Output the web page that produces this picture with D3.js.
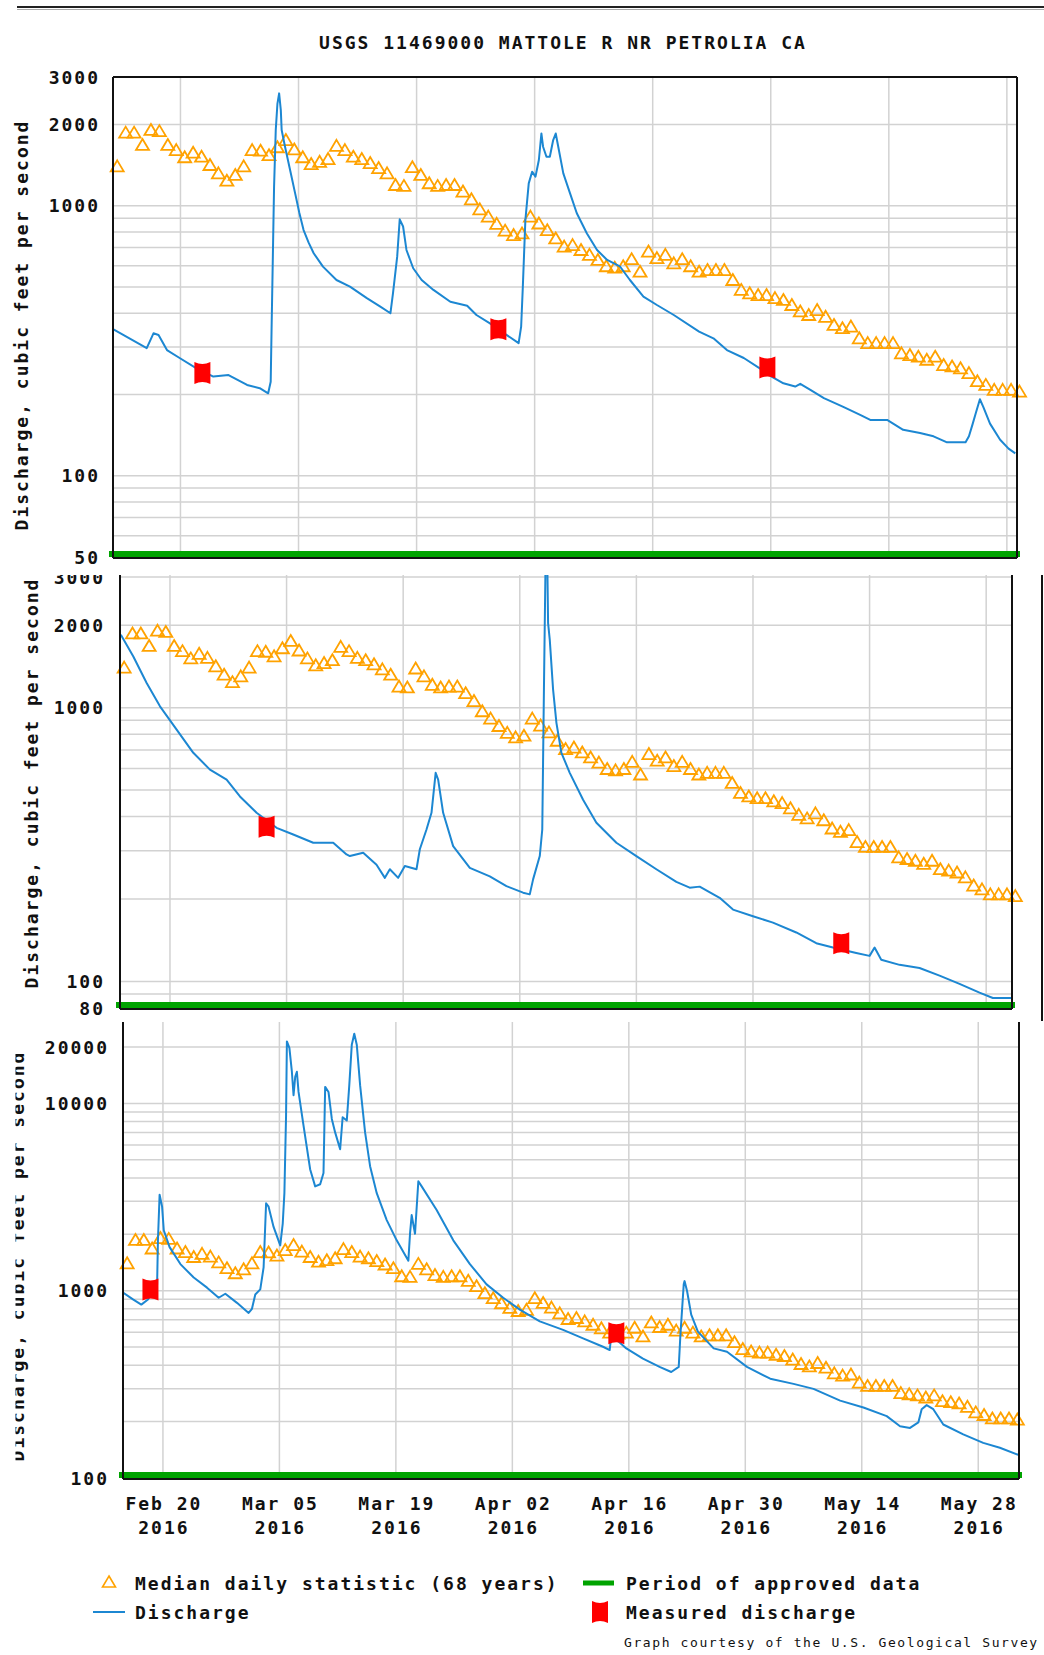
<!DOCTYPE html>
<html>
<head>
<meta charset="utf-8">
<script src="https://cdn.jsdelivr.net/npm/d3@7"></script>
<style>
  body { margin: 0; background: #fff; }
  text {
    font-family: "DejaVu Sans Mono", "Liberation Mono", monospace;
    font-weight: bold;
    font-size: 18px;
    letter-spacing: 2px;
    fill: #111;
  }
  .small { font-size: 13px; font-weight: normal; letter-spacing: 1.6px; }
</style>
</head>
<body>
<div id="chart"></div>
<script>
// median daily statistic (68 years), one value per day from the start of the window
const medianDaily = [
  1400, 1866, 1866, 1680, 1910, 1890, 1680, 1608, 1513, 1573,
  1520, 1416, 1319, 1239, 1301, 1400, 1608, 1600, 1540, 1648,
  1752, 1617, 1513, 1428, 1455, 1490, 1667, 1608, 1520, 1490,
  1440, 1380, 1319, 1194, 1185, 1390, 1301, 1212, 1185, 1194,
  1194, 1129, 1057, 970, 912, 857, 809, 779, 790, 912,
  860, 812, 757, 706, 715, 686, 658, 630, 597, 590,
  597, 634, 570, 677, 640, 658, 612, 634, 597, 570,
  578, 578, 578, 531, 488, 474, 467, 467, 455, 448,
  429, 406, 394, 411, 388, 362, 352, 357, 323, 310,
  310, 310, 310, 284, 280, 276, 269, 276, 257, 254,
  250, 240, 224, 217, 208, 208, 208, 205
];

// discharge, [day, cfs]
const flowTop = [
  [0, 349], [4.0, 297], [4.8, 337], [5.4, 332], [6.4, 292], [7.9, 273], [9.9, 250], [11.9, 233],
  [13.7, 236], [15.9, 217], [17.4, 211], [18.4, 202], [18.7, 223], [18.8, 342], [19.1, 1177],
  [19.3, 1910], [19.5, 2392], [19.7, 2609], [19.9, 2262], [20.0, 1910], [20.4, 1655], [21.0, 1357],
  [21.6, 1112], [22.1, 940], [22.6, 813], [23.2, 730], [23.8, 667], [24.9, 595], [26.5, 531], [28.1, 502], [30.1, 455],
  [31.7, 423], [32.9, 400], [33.2, 474], [33.7, 648], [34.0, 891], [34.4, 838], [34.8, 686],
  [35.6, 587], [36.6, 531], [38.0, 488], [40.0, 441], [42.0, 426], [43.1, 394], [44.7, 367],
  [46.7, 332], [48.1, 310], [48.4, 357], [48.6, 502], [48.9, 885], [49.3, 1211], [49.7, 1338],
  [50.1, 1282], [50.5, 1478], [50.8, 1853], [51.0, 1655], [51.4, 1520], [51.8, 1520], [52.2, 1752],
  [52.5, 1853], [52.8, 1655], [53.4, 1319], [54.2, 1112], [55.0, 938], [56.2, 790], [57.4, 686],
  [58.6, 630], [60.1, 597], [61.3, 531], [62.9, 461], [64.5, 429], [66.5, 394], [69.5, 342],
  [71.2, 323], [72.8, 292], [74.8, 273], [76.7, 250], [78.1, 233], [79.5, 220], [80.9, 214],
  [81.5, 219], [82.7, 208], [84.3, 194], [86.6, 180], [88.6, 168], [89.8, 161], [91.8, 161],
  [93.7, 148], [95.7, 144], [97.3, 140], [98.9, 133], [101.1, 133], [101.5, 140], [101.9, 154],
  [102.3, 170], [102.8, 192], [103.2, 180], [104.0, 156], [105.2, 136], [106.2, 126], [107.0, 121]
];
const flowMid = [
  [0.1, 1847], [1.6, 1538], [3.2, 1230], [4.8, 1011], [6.8, 831], [8.8, 684], [10.8, 594],
  [12.8, 546], [14.4, 474], [16.4, 413], [18.8, 364], [20.8, 344], [23.2, 321], [25.6, 321],
  [27.2, 291], [27.6, 287], [29.2, 295], [30.8, 267], [31.8, 239], [32.4, 257], [33.4, 239],
  [34.2, 264], [35.6, 257], [36.0, 304], [36.8, 359], [37.4, 413], [37.9, 578], [38.2, 546],
  [38.8, 413], [40.0, 312], [42.0, 260], [44.4, 242], [46.4, 223], [48.4, 211], [49.2, 208],
  [49.6, 236], [50.4, 287], [50.7, 359], [50.9, 1163], [51.1, 3500], [51.3, 3500], [51.4, 2037],
  [51.6, 1771], [52.0, 1163], [52.4, 880], [53.0, 684], [54.0, 578], [55.6, 461], [57.2, 380],
  [59.6, 321], [62.0, 287], [64.4, 257], [66.8, 231], [68.4, 220], [69.6, 222], [72.0, 202],
  [73.6, 183], [76.0, 173], [78.4, 164], [81.2, 151], [83.6, 138], [85.6, 133], [88.4, 127],
  [90.0, 124], [90.6, 133], [91.4, 120], [93.6, 115], [96.0, 112], [98.4, 105], [100.8, 98],
  [103.2, 91], [104.8, 87], [107.0, 87]
];
const flowLow = [
  [0.0, 978], [1.2, 898], [2.2, 843], [3.0, 898], [4.1, 1081], [4.2, 1857], [4.4, 3251],
  [4.7, 2810], [4.9, 2102], [5.6, 1708], [6.9, 1387], [8.5, 1175], [10.1, 1038], [11.5, 917],
  [12.3, 963], [13.7, 861], [15.1, 761], [15.5, 800], [15.9, 955], [16.5, 1016], [16.9, 1331],
  [17.2, 2929], [17.5, 2810], [18.1, 2190], [18.9, 1745], [19.2, 2282], [19.4, 3316], [19.6, 8610],
  [19.7, 21430], [20.0, 19770], [20.3, 14760], [20.5, 11050], [20.7, 13870], [20.9, 14760],
  [21.1, 11510], [21.7, 7600], [22.5, 4436], [23.1, 3605], [23.7, 3700], [24.1, 4254],
  [24.3, 12250], [24.7, 11510], [25.1, 8260], [25.5, 7000], [26.1, 5690], [26.4, 8430],
  [26.9, 8100], [27.2, 12510], [27.5, 20580], [27.8, 23510], [28.1, 20580], [28.5, 12510],
  [29.1, 7000], [29.7, 4620], [30.5, 3316], [31.7, 2381], [32.9, 1857], [34.3, 1447], [34.5, 2015],
  [34.7, 2533], [35.1, 2015], [35.5, 3837], [35.9, 3605], [37.7, 2697], [39.7, 1857], [41.7, 1387],
  [43.7, 1081], [45.7, 917], [47.7, 792], [50.1, 686], [52.9, 618], [55.3, 557], [57.7, 502],
  [58.5, 482], [58.7, 580], [60.5, 492], [62.5, 434], [64.5, 392], [65.9, 368], [66.8, 392],
  [67.0, 580], [67.4, 1081], [67.5, 1125], [67.8, 996], [68.3, 745], [69.1, 605], [71.0, 492],
  [72.6, 472], [75.0, 392], [77.8, 339], [80.6, 318], [83.0, 299], [86.2, 259], [89.0, 238],
  [91.8, 214], [93.4, 189], [94.6, 185], [95.6, 198], [96.0, 233], [96.6, 245], [97.4, 233],
  [98.6, 193], [101.0, 171], [103.4, 154], [105.4, 145], [107.6, 133]
];

// measured discharge, [day, cfs]
const measuredTop = [[10.6, 240], [45.7, 349], [77.6, 252]];
const measuredMid = [[17.6, 367], [86.6, 138]];
const measuredLow = [[3.3, 1016], [59.3, 593]];

const tickDates = ["Feb 20", "Mar 05", "Mar 19", "Apr 02", "Apr 16", "Apr 30", "May 14", "May 28"];
const tickYear = "2016";

const labelsTop = [50, 100, 1000, 2000, 3000];
const labelsMid = [80, 100, 1000, 2000, 3000];
const labelsLow = [100, 1000, 10000, 20000];

const W = 1044, H = 1655;
const blue = "#1c87d2", orange = "#ffa200", green = "#00a300";

const svg = d3.select("#chart").append("svg")
  .attr("width", W).attr("height", H)
  .style("background-color", "#fff");
const defs = svg.append("defs");

svg.append("line").attr("x1", 17).attr("x2", W).attr("y1", 7).attr("y2", 7)
  .attr("stroke", "#222").attr("stroke-width", 2);
svg.append("line").attr("x1", 17).attr("x2", W).attr("y1", 9.5).attr("y2", 9.5)
  .attr("stroke", "#aaa").attr("stroke-width", 1);

svg.append("text").attr("x", 563).attr("y", 49).attr("text-anchor", "middle")
  .text("USGS 11469000 MATTOLE R NR PETROLIA CA");

const panels = [
  { flow: flowTop, measured: measuredTop, labels: labelsTop,
    x0: 113, x1: 1017, days: 107.2, grid0: 8,
    yDomain: [50, 3000], yRange: [557, 77], plotTop: 77, crop: [0, 575],
    topBorder: true, labelX: 100, titleX: 28, titleY: 325 },
  { flow: flowMid, measured: measuredMid, labels: labelsMid,
    x0: 120, x1: 1012, days: 107.1, grid0: 6,
    yDomain: [80, 3000], yRange: [1008, 577], plotTop: 575, crop: [575, 1021],
    topBorder: false, labelX: 105, titleX: 38, titleY: 783 },
  { flow: flowLow, measured: measuredLow, labels: labelsLow,
    x0: 123, x1: 1019, days: 107.7, grid0: 4.8,
    yDomain: [100, 20000], yRange: [1478, 1047], plotTop: 1022, crop: [1021, H],
    topBorder: false, labelX: 109, titleX: 24, titleY: 1256, cutTitle: 15.5, xLabels: true }
];

const triangle = "M0,-6L6.5,5H-6.5Z";
const gauge = "M-8,-11Q0,-7 8,-11V11Q0,7 -8,11Z";

panels.forEach((p, i) => {
  defs.append("clipPath").attr("id", "crop" + i)
    .append("rect").attr("x", 0).attr("y", p.crop[0])
    .attr("width", W).attr("height", p.crop[1] - p.crop[0]);
  const bottom = p.yRange[0];
  defs.append("clipPath").attr("id", "plot" + i)
    .append("rect").attr("x", p.x0).attr("y", p.plotTop)
    .attr("width", p.x1 - p.x0).attr("height", bottom - p.plotTop);

  const x = d3.scaleLinear([0, p.days], [p.x0, p.x1]);
  const y = d3.scaleLog(p.yDomain, p.yRange);
  const g = svg.append("g").attr("clip-path", `url(#crop${i})`);

  // grid
  g.append("g").attr("stroke", "#d2d2d2").attr("stroke-width", 1.5)
    .selectAll("line")
    .data(y.ticks().filter((v) => v > p.yDomain[0] && y(v) >= p.plotTop))
    .join("line")
    .attr("x1", p.x0).attr("x2", p.x1)
    .attr("y1", (v) => y(v)).attr("y2", (v) => y(v));

  const gridDays = d3.range(p.grid0, p.days, 14);
  g.append("g").attr("stroke", "#d2d2d2").attr("stroke-width", 1.5)
    .selectAll("line")
    .data(gridDays)
    .join("line")
    .attr("x1", (d) => x(d)).attr("x2", (d) => x(d))
    .attr("y1", p.plotTop).attr("y2", bottom);

  // median daily statistic
  g.append("g").attr("fill", "none").attr("stroke", orange).attr("stroke-width", 1.8)
    .selectAll("path")
    .data(medianDaily)
    .join("path")
    .attr("transform", (v, d) => `translate(${x(d + 0.5)},${y(v)})`)
    .attr("d", triangle);

  // discharge
  g.append("path")
    .datum(p.flow)
    .attr("clip-path", `url(#plot${i})`)
    .attr("fill", "none")
    .attr("stroke", blue)
    .attr("stroke-width", 2)
    .attr("stroke-linejoin", "round")
    .attr("d", d3.line().x((d) => x(d[0])).y((d) => y(d[1])));

  // measured discharge
  g.append("g").attr("fill", "#ff0000")
    .selectAll("path")
    .data(p.measured)
    .join("path")
    .attr("transform", (d) => `translate(${x(d[0])},${y(d[1])})`)
    .attr("d", gauge);

  // period of approved data
  g.append("rect")
    .attr("x", p.x0 - 4).attr("y", bottom - 6)
    .attr("width", p.x1 - p.x0 + 7).attr("height", 6)
    .attr("fill", green);

  // frame
  const frame = g.append("g").attr("stroke", "#111").attr("stroke-width", 2);
  frame.append("line").attr("x1", p.x0).attr("x2", p.x0).attr("y1", p.plotTop).attr("y2", bottom + 1);
  frame.append("line").attr("x1", p.x1).attr("x2", p.x1).attr("y1", p.plotTop).attr("y2", bottom + 1);
  frame.append("line").attr("x1", p.x0).attr("x2", p.x1).attr("y1", bottom + 1).attr("y2", bottom + 1);
  if (p.topBorder) {
    frame.append("line").attr("x1", p.x0).attr("x2", p.x1).attr("y1", p.plotTop).attr("y2", p.plotTop);
  }

  // y tick labels
  g.append("g").attr("text-anchor", "end")
    .selectAll("text")
    .data(p.labels)
    .join("text")
    .attr("x", p.labelX)
    .attr("y", (v) => y(v) + 6.5)
    .text((v) => v);

  // y axis title
  let tg = g;
  if (p.cutTitle) {
    defs.append("clipPath").attr("id", "cut" + i)
      .append("rect").attr("x", p.cutTitle).attr("y", p.crop[0])
      .attr("width", 200).attr("height", p.crop[1] - p.crop[0]);
    tg = g.append("g").attr("clip-path", `url(#cut${i})`);
  }
  tg.append("text")
    .attr("transform", `translate(${p.titleX},${p.titleY}) rotate(-90)`)
    .attr("text-anchor", "middle")
    .text("Discharge, cubic feet per second");

  if (p.xLabels) {
    const xl = g.append("g").attr("text-anchor", "middle")
      .selectAll("g")
      .data(tickDates)
      .join("g")
      .attr("transform", (d, k) => `translate(${x(gridDays[k]) + 1},0)`);
    xl.append("text").attr("y", 1510).text((d) => d);
    xl.append("text").attr("y", 1534).text(tickYear);
  }
});

// cropped edge on the right of the middle graph
svg.append("line").attr("x1", 1042).attr("x2", 1042).attr("y1", 575).attr("y2", 1021)
  .attr("stroke", "#111").attr("stroke-width", 2);

// legend
const legend = svg.append("g");
legend.append("path").attr("transform", "translate(109,1582)").attr("d", triangle)
  .attr("fill", "none").attr("stroke", orange).attr("stroke-width", 1.6);
legend.append("text").attr("x", 135).attr("y", 1590).text("Median daily statistic (68 years)");
legend.append("line").attr("x1", 583).attr("x2", 614).attr("y1", 1583).attr("y2", 1583)
  .attr("stroke", green).attr("stroke-width", 5);
legend.append("text").attr("x", 626).attr("y", 1590).text("Period of approved data");
legend.append("line").attr("x1", 93).attr("x2", 125).attr("y1", 1612).attr("y2", 1612)
  .attr("stroke", blue).attr("stroke-width", 2);
legend.append("text").attr("x", 135).attr("y", 1619).text("Discharge");
legend.append("path").attr("transform", "translate(600,1612)").attr("d", gauge).attr("fill", "#ff0000");
legend.append("text").attr("x", 626).attr("y", 1619).text("Measured discharge");
legend.append("text").attr("class", "small").attr("x", 624).attr("y", 1647)
  .text("Graph courtesy of the U.S. Geological Survey");
</script>
</body>
</html>
